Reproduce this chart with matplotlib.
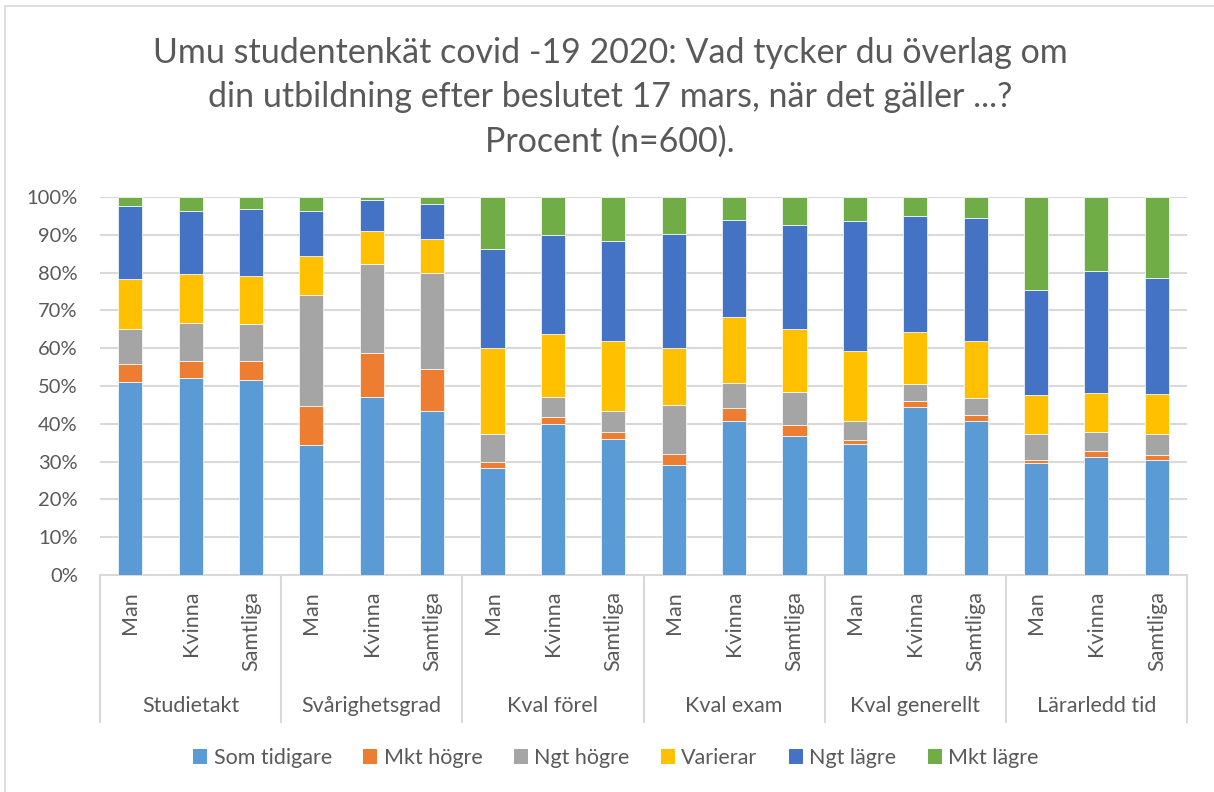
import matplotlib
matplotlib.use("Agg")
import matplotlib.pyplot as plt
from matplotlib.patches import Patch, Rectangle
from matplotlib.lines import Line2D
import numpy as np

plt.rcParams['font.family'] = ['Lato', 'DejaVu Sans']

groups = ["Studietakt", "Svårighetsgrad", "Kval förel", "Kval exam",
          "Kval generellt", "Lärarledd tid"]
subgroups = ["Man", "Kvinna", "Samtliga"]
series_names = ["Som tidigare", "Mkt högre", "Ngt högre", "Varierar",
                "Ngt lägre", "Mkt lägre"]
colors = ["#5B9BD5", "#ED7D31", "#A5A5A5", "#FFC000", "#4472C4", "#70AD47"]

# Percent per bar, in order: group by group, Man / Kvinna / Samtliga
som_tidigare = [51.0, 52.0, 51.7, 34.3, 47.2, 43.4, 28.4, 39.9, 35.9,
                29.2, 40.8, 36.9, 34.6, 44.4, 40.7, 29.5, 31.3, 30.5]
mkt_hogre = [4.8, 4.6, 4.9, 10.4, 11.6, 11.1, 1.6, 2.0, 1.8,
             2.7, 3.4, 2.8, 1.1, 1.5, 1.5, 0.9, 1.4, 1.3]
ngt_hogre = [9.3, 10.1, 9.7, 29.5, 23.4, 25.4, 7.4, 5.1, 5.8,
             13.0, 6.5, 8.8, 5.1, 4.5, 4.6, 6.9, 5.0, 5.6]
varierar = [13.1, 12.9, 12.8, 10.2, 8.7, 9.1, 22.6, 16.8, 18.4,
            15.1, 17.5, 16.7, 18.4, 13.8, 15.1, 10.4, 10.5, 10.5]
ngt_lagre = [19.3, 16.8, 17.7, 12.0, 8.2, 9.2, 26.3, 26.1, 26.5,
             30.1, 25.8, 27.5, 34.5, 30.8, 32.6, 27.7, 32.2, 30.7]
mkt_lagre = [2.6, 3.6, 3.2, 3.6, 0.9, 1.8, 13.7, 10.1, 11.6,
             9.9, 6.0, 7.3, 6.3, 5.0, 5.5, 24.6, 19.6, 21.4]

series = [som_tidigare, mkt_hogre, ngt_hogre, varierar, ngt_lagre, mkt_lagre]

W, H = 1214, 792
fig = plt.figure(figsize=(W / 100, H / 100), dpi=100)
text_color = "#595959"
grid_color = "#D9D9D9"

# chart frame
fig.patches.append(Rectangle((5 / W, -0.1), 1.2, 1 - 6 / H + 0.1,
                             transform=fig.transFigure, fill=False,
                             edgecolor="#D9D9D9", linewidth=1.2))

ax_l, ax_r, ax_t, ax_b = 100, 1187, 197, 575
ax = fig.add_axes([ax_l / W, 1 - ax_b / H, (ax_r - ax_l) / W, (ax_b - ax_t) / H])

n = len(som_tidigare)
x = np.arange(n)
bottom = np.zeros(n)
for vals, col, name in zip(series, colors, series_names):
    vals = np.array(vals, dtype=float)
    ax.bar(x, vals, width=0.4, bottom=bottom, color=col, label=name,
           edgecolor="white", linewidth=0.5, zorder=3)
    bottom += vals

ax.set_xlim(-0.5, n - 0.5)
ax.set_ylim(0, 100)
ax.set_yticks(np.arange(0, 101, 10))
ax.set_yticklabels([f"{v}%" for v in range(0, 101, 10)])
ax.tick_params(axis='y', length=0, labelsize=14.5, labelcolor=text_color, pad=16)
ax.set_xticks([])
ax.yaxis.grid(True, color=grid_color, linewidth=1.5, zorder=0)
for s in ["top", "right", "left"]:
    ax.spines[s].set_visible(False)
ax.spines["bottom"].set_color(grid_color)
ax.spines["bottom"].set_linewidth(1.5)

ax_h = ax_b - ax_t
xt = ax.get_xaxis_transform()

# subgroup labels (rotated)
for i in range(n):
    ax.text(i, -(591 - ax_b) / ax_h, subgroups[i % 3], rotation=90,
            ha='center', va='top', fontsize=15.5, color=text_color,
            transform=xt)

# group labels and separators
for g, name in enumerate(groups):
    ax.text(g * 3 + 1, -(706 - ax_b) / ax_h, name, ha='center', va='center',
            fontsize=15.5, color=text_color, transform=xt)
for g in range(len(groups) + 1):
    ax.add_line(Line2D([g * 3 - 0.5, g * 3 - 0.5], [0, -(722 - ax_b) / ax_h],
                       transform=xt, color=grid_color, linewidth=1.5,
                       clip_on=False))

title = ("Umu studentenkät covid -19 2020: Vad tycker du överlag om\n"
         "din utbildning efter beslutet 17 mars, när det gäller ...?\n"
         "Procent (n=600).")
fig.text(610 / W, 1 - 97 / H, title, ha='center', va='center',
         fontsize=24.5, color=text_color, linespacing=1.47)

handles = [Patch(facecolor=c, edgecolor='none') for c in colors]
fig.legend(handles, series_names, loc='center', ncol=6,
           bbox_to_anchor=(616 / W, 1 - 758 / H), frameon=False,
           fontsize=15.5, labelcolor=text_color, handlelength=0.65,
           handleheight=0.65, handletextpad=0.3, columnspacing=1.45)

fig.savefig("out.png", dpi=100)
